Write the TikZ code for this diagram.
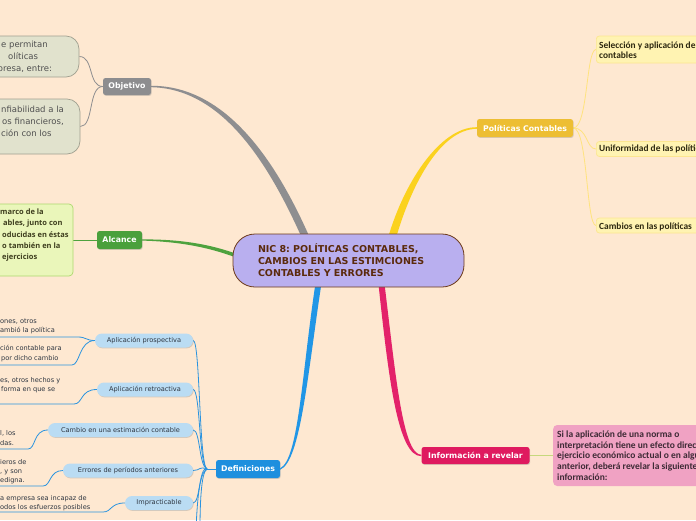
\documentclass[tikz,border=0pt]{standalone}
\usepackage{fontspec}
\setmainfont{DejaVu Sans}
\newfontfamily\osans{Open Sans}
\newfontfamily\carl{Carlito}
\usetikzlibrary{shadows}
\frenchspacing
\pgfdeclarelayer{bgl}
\pgfdeclarelayer{edges}
\pgfsetlayers{bgl,edges,main}
\definecolor{bgc}{HTML}{FEE8D1}
\definecolor{lav}{HTML}{B9AFEF}
\definecolor{cborder}{HTML}{6D3A1A}
\definecolor{ctext}{HTML}{5B2A0C}
\definecolor{grayn}{HTML}{8D8D8F}
\definecolor{grayl}{HTML}{8E8E90}
\definecolor{obfill}{HTML}{E1E2CD}
\definecolor{obdraw}{HTML}{A0A090}
\definecolor{obtext}{HTML}{505050}
\definecolor{greenn}{HTML}{4AA03C}
\definecolor{greenl}{HTML}{4EA23E}
\definecolor{acfill}{HTML}{EAF6BA}
\definecolor{acdraw}{HTML}{ADD96E}
\definecolor{actext}{HTML}{3E3E1E}
\definecolor{bluen}{HTML}{1E8FDE}
\definecolor{bluel}{HTML}{2196E6}
\definecolor{bluet}{HTML}{2A93DF}
\definecolor{pillc}{HTML}{BADCF3}
\definecolor{pilltext}{HTML}{2D3540}
\definecolor{yelln}{HTML}{EDBE33}
\definecolor{yelll}{HTML}{FBD21E}
\definecolor{yellt}{HTML}{FFE37E}
\definecolor{yfill}{HTML}{FFF3B2}
\definecolor{ydraw}{HTML}{FCE690}
\definecolor{ytext}{HTML}{2D2810}
\definecolor{crimn}{HTML}{DF1A5F}
\definecolor{criml}{HTML}{E3226A}
\definecolor{pinkc}{HTML}{F0A2C3}
\definecolor{pinkt}{HTML}{3D2A35}
\definecolor{olivel}{HTML}{C6D87C}
\tikzset{
  shad/.style={drop shadow={shadow xshift=0.7pt,shadow yshift=-0.9pt,opacity=0.3}},
  central/.style={draw=cborder, line width=0.8pt, fill=lav, rounded corners=22pt,
    minimum width=231pt, minimum height=53pt, text width=181pt, align=left,
    font=\fontsize{9.5}{12}\selectfont\bfseries, text=ctext, inner sep=0pt},
  mainlbl/.style={font=\fontsize{7.8}{9}\selectfont\bfseries, text=white,
    rounded corners=2.5pt, inner sep=0pt, minimum height=18pt, shad},
  pill/.style={fill=pillc, rounded corners=7pt, inner sep=0pt, minimum height=14pt,
    font=\fontsize{6.6}{8}\selectfont, text=pilltext, shad},
  obox/.style={fill=obfill, draw=obdraw, line width=0.7pt, rounded corners=13pt, inner sep=0pt},
  otext/.style={font=\fontsize{8.5}{12}\selectfont, text=obtext, inner sep=0pt, anchor=base west},
  abox/.style={fill=acfill, draw=acdraw, line width=0.7pt, rounded corners=4pt, inner sep=0pt},
  atext/.style={font=\osans\fontsize{7.5}{11}\selectfont\bfseries, text=actext, inner sep=0pt, anchor=base west},
  gtext/.style={font=\fontsize{6.6}{9}\selectfont, text=pilltext, inner sep=0pt, anchor=base west},
  ybox/.style={fill=yfill, draw=ydraw, line width=0.7pt, rounded corners=3pt, inner sep=0pt, minimum width=130pt},
  ytxt/.style={font=\carl\fontsize{9.4}{10}\selectfont\bfseries, text=ytext, inner sep=0pt, anchor=base west},
  pbox/.style={fill=pinkc, rounded corners=4pt, inner sep=0pt, minimum width=150pt, minimum height=61pt},
  ptxt/.style={font=\carl\fontsize{9.5}{11}\selectfont\bfseries, text=pinkt, inner sep=0pt, anchor=base west},
  bthin/.style={draw=bluet, line width=0.8pt},
}
\begin{document}
\begin{tikzpicture}[x=1pt,y=-1pt]
\useasboundingbox (0,0) rectangle (696,520);
\begin{pgfonlayer}{bgl}
\fill[bgc] (0,0) rectangle (696,520);
\end{pgfonlayer}

% central
\node[central] (c) at (348.5,260.5) {\mbox{NIC 8: POLÍTICAS CONTABLES,}\\\mbox{CAMBIOS EN LAS ESTIMCIONES}\\\mbox{CONTABLES Y ERRORES}};

% main branch labels
\node[mainlbl, fill=grayn, minimum width=48pt, minimum height=17pt] (obj) at (127,86.5) {Objetivo};
\node[mainlbl, fill=greenn, minimum width=45pt] (alc) at (119.5,240) {Alcance};
\node[mainlbl, fill=bluen, minimum width=64pt] (def) at (248,469) {Definiciones};
\node[mainlbl, fill=yelln, minimum width=96pt] (pol) at (525,128) {Políticas Contables};
\node[mainlbl, fill=crimn, minimum width=108pt, minimum height=17pt] (inf) at (475.5,455.5) {Información a revelar};

% Objetivo children
\node[obox, minimum width=110pt, minimum height=41pt] (ob1) at (24,56.5) {};
\node[obox, minimum width=110pt, minimum height=55pt] (ob2) at (25,126.5) {};
\node[otext] (o11) at (1,47.5) {e permitan};
\node[otext] (o12) at (8,59.5) {olíticas};
\node[otext] (o13) at (-2.5,71.5) {presa, entre:};
\node[otext] (o21) at (1,112.5) {nfiabilidad a la};
\node[otext] (o22) at (2,124.5) {os financieros,};
\node[otext] (o23) at (1,136.5) {ción con los};

% Alcance child
\node[abox, minimum width=100pt, minimum height=72pt] (ac) at (23,240) {};
\node[atext] (a1) at (0,214) {marco de la};
\node[atext] (a2) at (3,225) {ables, junto con};
\node[atext] (a3) at (2,237) {oducidas en éstas};
\node[atext] (a4) at (2,248) {o también en la};
\node[atext] (a5) at (2,259) {ejercicios};

% Definiciones children
\node[pill, minimum width=98pt] (ap) at (144,340.5) {Aplicación prospectiva};
\node[pill, minimum width=96pt] (ar) at (145,389.5) {Aplicación retroactiva};
\node[pill, minimum width=145pt] (ce) at (120.5,430) {Cambio en una estimación contable};
\node[pill, minimum width=130pt] (ep) at (128,470.5) {Errores de períodos anteriores};
\node[pill, minimum width=68pt] (im) at (159,503) {Impracticable};

\node[gtext] (g11) at (0,323.5) {ones, otros};
\node[gtext] (g12) at (0,332.5) {ambió la política};
\node[gtext] (g21) at (0,350.5) {ción contable para};
\node[gtext] (g22) at (1,360) {por dicho cambio};
\node[gtext] (g31) at (0,382.5) {es, otros hechos y};
\node[gtext] (g32) at (1,391.5) {forma en que se};
\node[gtext] (g41) at (0,435.5) {l, los};
\node[gtext] (g42) at (0,445) {das.};
\node[gtext] (g51) at (0,464.5) {ieros de};
\node[gtext] (g52) at (0,473.5) {, y son};
\node[gtext] (g53) at (0,482) {edigna.};
\node[gtext] (g61) at (0,500.5) {a empresa sea incapaz de};
\node[gtext] (g62) at (0,509) {odos los esfuerzos posibles};

% Politicas children
\node[ybox, minimum height=27pt, anchor=west] (sel) at (596,49.5) {};
\node[ytxt] (s1) at (599,48.5) {Selección y aplicación de las};
\node[ytxt] (s2) at (599,58.5) {contables};
\node[ybox, minimum height=15pt, anchor=west] (uni) at (596,149) {};
\node[ytxt] (u1) at (599,151.5) {Uniformidad de las políticas};
\node[ybox, minimum height=15pt, anchor=west] (cam) at (596,225.5) {};
\node[ytxt] (k1) at (599,229) {Cambios en las políticas};

% Informacion child
\node[pbox, anchor=west] (pk) at (553,455.5) {};
\node[ptxt] (p1) at (557,437.5) {Si la aplicación de una norma o};
\node[ptxt] (p2) at (557,448) {interpretación tiene un efecto directo};
\node[ptxt] (p3) at (557,458.8) {ejercicio económico actual o en algún};
\node[ptxt] (p4) at (557,469.6) {anterior, deberá revelar la siguiente};
\node[ptxt] (p5) at (557,480.4) {información:};

\coordinate (u1s) at (-5,337);
\coordinate (u2s) at (-5,365);
\coordinate (u3s) at (-5,404);
\coordinate (u4s) at (-5,449);
\coordinate (u5s) at (-5,486);
\coordinate (u6s) at (-5,512);
\coordinate (off1) at (196,530);
\coordinate (off2) at (200,530);
\coordinate (dj) at (207,469);

\begin{pgfonlayer}{edges}
% thick tapered connectors
\fill[grayl] ([yshift=0.7pt]obj.east) .. controls (227,85.5) and (278,163) .. (313,245)
  -- (305,245) .. controls (271,167) and (224,88.5) .. ([yshift=-0.7pt]obj.east) -- cycle;
\fill[yelll] ([yshift=0.8pt]pol.west) .. controls (440,126.8) and (402,184) .. (386,245)
  -- (394,245) .. controls (410,186) and (440,129.2) .. ([yshift=-0.8pt]pol.west) -- cycle;
\fill[greenl] ([yshift=0.6pt]alc.east) .. controls (185,239.2) and (215,245.2) .. (245,257)
  -- (245,261) .. controls (215,248.8) and (185,241.8) .. ([yshift=-0.6pt]alc.east) -- cycle;
\fill[bluel] (316,280) .. controls (302,370) and (299,459) .. ([yshift=0.7pt]def.east)
  -- ([yshift=-0.7pt]def.east) .. controls (301,461) and (308,370) .. (322,280) -- cycle;
\fill[criml] (378,280) .. controls (388,372) and (397,456.5) .. ([yshift=-0.7pt]inf.west)
  -- ([yshift=0.7pt]inf.west) .. controls (402,454.5) and (395,368) .. (384,280) -- cycle;

% thin connectors
\draw[grayl, line width=0.8pt] (obj.west) .. controls (88,86.5) and (94,56.5) .. (ob1.east);
\draw[grayl, line width=0.8pt] (obj.west) .. controls (88,86.5) and (94,126.5) .. (ob2.east);
\draw[greenl, line width=0.8pt] (alc.west) -- (ac.east);
\draw[yellt, line width=0.8pt] (pol.east) .. controls (588,128) and (586,49.5) .. (sel.west);
\draw[yellt, line width=0.8pt] (pol.east) .. controls (588,128) and (586,149) .. (uni.west);
\draw[yellt, line width=0.8pt] (pol.east) .. controls (588,128) and (586,225.5) .. (cam.west);
\draw[olivel, line width=1.2pt] (inf.east) -- (pk.west);

\draw[bthin] (def.west) -- (dj);
\foreach \p in {ap,ar,ce,ep,im}{
  \draw[bthin] (\p.east) .. controls ([xshift=7pt]\p.east) and (199,466) .. (dj);
}
\draw[bthin] (dj) .. controls (199,472) and (197,505) .. (off1);
\draw[bthin] (dj) .. controls (201,472) and (200,505) .. (off2);

\draw[bthin] (u1s) -- (78,337) .. controls (86,337) and (86,340.5) .. (ap.west);
\draw[bthin] (u2s) -- (72,365) .. controls (80,365) and (79,340.5) .. (ap.west);
\draw[bthin] (u3s) -- (74,404) .. controls (83,404) and (80,389.5) .. (ar.west);
\draw[bthin] (u4s) -- (28,449) .. controls (36,449) and (33,430) .. (ce.west);
\draw[bthin] (u5s) -- (43,486) .. controls (51,486) and (49,470.5) .. (ep.west);
\draw[bthin] (u6s) -- (103,512) .. controls (112,512) and (110,503) .. (im.west);
\end{pgfonlayer}
\end{tikzpicture}
\end{document}
